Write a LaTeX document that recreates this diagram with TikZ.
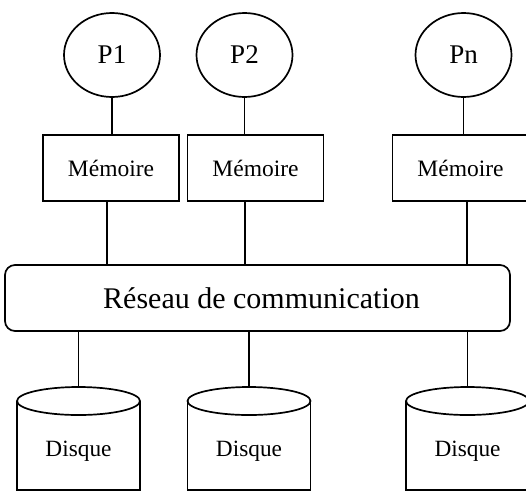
\documentclass[tikz,border=0pt]{standalone}
\usepackage{fontspec}
\setmainfont{Liberation Serif}
\usetikzlibrary{shapes.geometric}
\begin{document}
\begin{tikzpicture}[x=1pt,y=-1pt,line width=1.7pt,
  proc/.style={draw,ellipse,minimum width=96pt,minimum height=84pt,inner sep=0pt,font=\fontsize{27}{30}\selectfont},
  mem/.style={draw,rectangle,minimum width=136pt,minimum height=66pt,inner sep=0pt,font=\fontsize{23.5}{26}\selectfont},
  net/.style={draw,rectangle,rounded corners=10pt,minimum width=505pt,minimum height=66pt,inner sep=0pt,font=\fontsize{30}{34}\selectfont},
  disklabel/.style={inner sep=0pt,font=\fontsize{23.3}{26}\selectfont}]
\useasboundingbox (0,0) rectangle (526,498);
\clip (0,0) rectangle (526,498);
\node[proc] (p1) at (112,55) {P1};
\node[proc] (p2) at (244.5,55) {P2};
\node[proc] (pn) at (463.5,55) {Pn};
\node[mem] (m1) at (111,168) {Mémoire};
\node[mem] (m2) at (255.5,168) {Mémoire};
\node[mem] (m3) at (460.5,168) {Mémoire};
\node[net] (net) at (257.5,298) {\hspace*{8pt}Réseau de communication};
% disks
\foreach \n/\cx in {1/78.5,2/249,3/467.5}{
  \draw (\cx-61.5,401) -- (\cx-61.5,490) -- (\cx+61.5,490) -- (\cx+61.5,401);
  \draw[fill=white] (\cx,401) ellipse [x radius=61.5,y radius=14];
  \coordinate (d\n) at (\cx,387);
  \node[disklabel] (dl\n) at (\cx,451) {Disque};
}
% connectors
\draw (p1.south) -- (p1.south |- m1.north);
\draw (p2.south) -- (p2.south |- m2.north);
\draw (pn.south) -- (pn.south |- m3.north);
\draw ([xshift=-4pt]m1.south) -- ([xshift=-4pt]m1.south |- net.north);
\draw ([xshift=-10.5pt]m2.south) -- ([xshift=-10.5pt]m2.south |- net.north);
\draw ([xshift=6.5pt]m3.south) -- ([xshift=6.5pt]m3.south |- net.north);
\draw (d1 |- net.south) -- (d1);
\draw (d2 |- net.south) -- (d2);
\draw (d3 |- net.south) -- (d3);
\end{tikzpicture}
\end{document}
